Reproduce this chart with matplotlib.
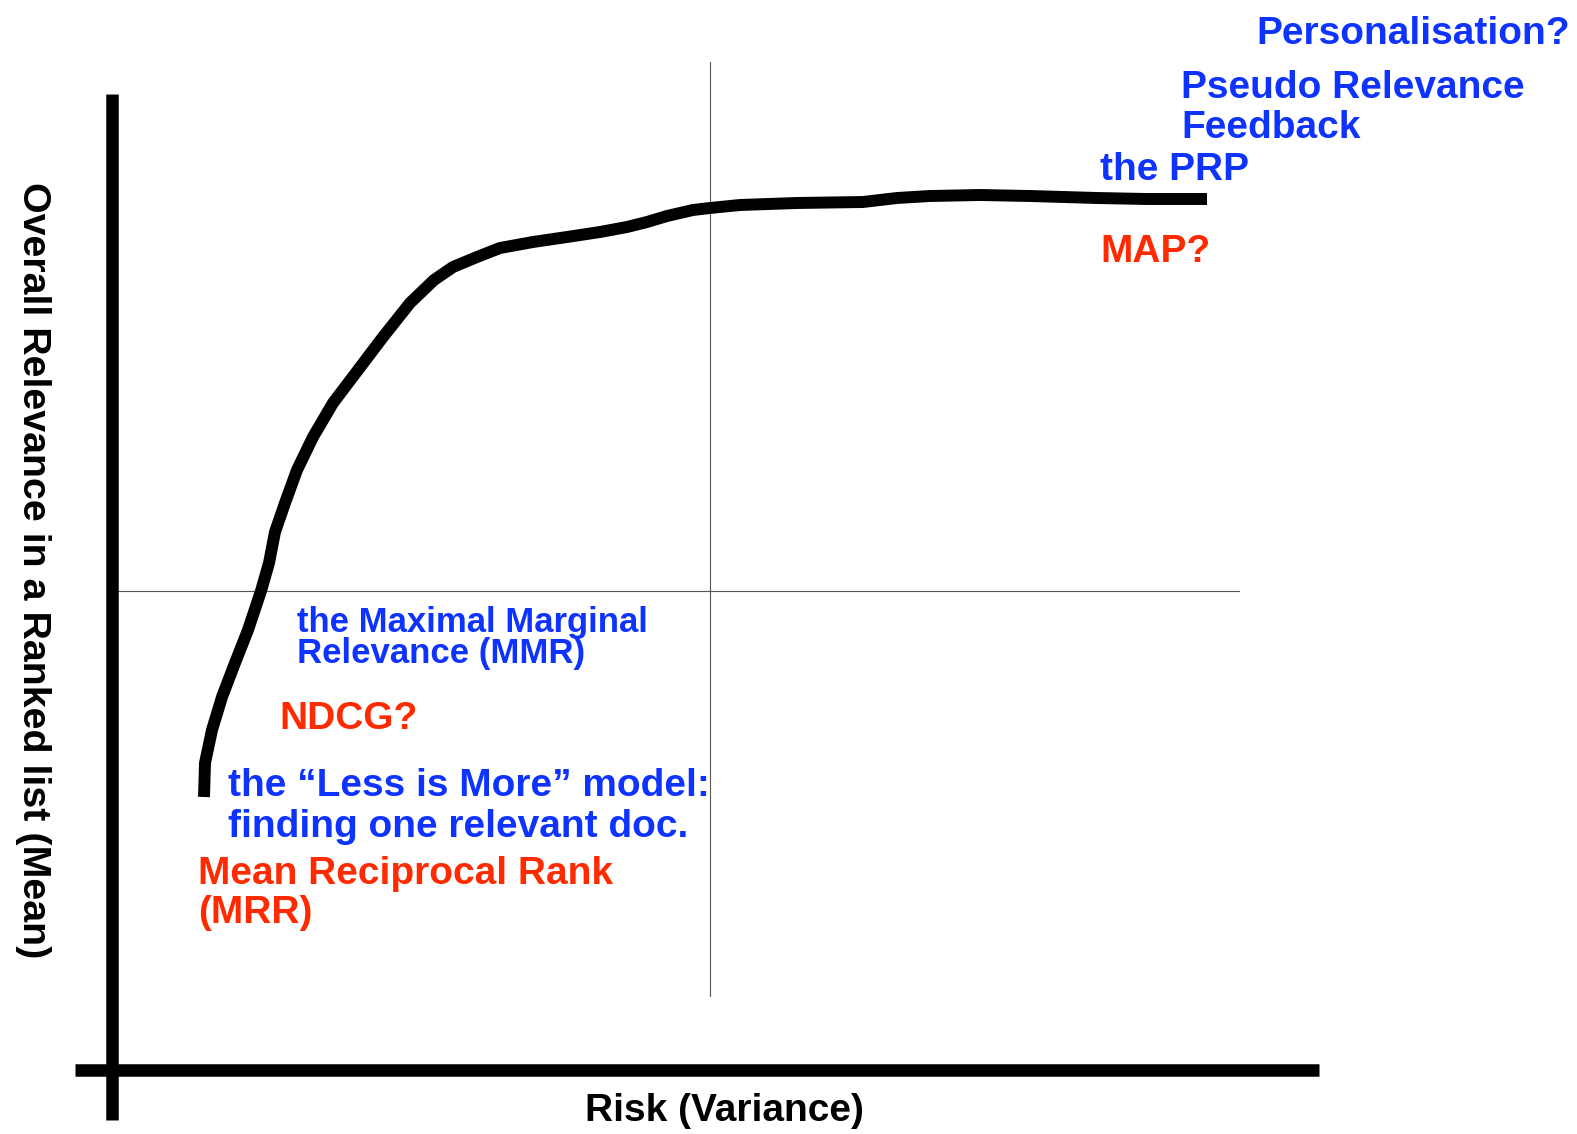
import matplotlib
matplotlib.use("Agg")
import matplotlib.pyplot as plt

# ---- data (pixel-space coordinates of the reference canvas) ----
risk_px = [204, 205, 212, 222, 235, 248, 261, 269, 275, 285, 297, 313, 333, 358,
           383, 410, 434, 453, 477, 500, 533, 567, 600, 627, 647, 667, 693, 710,
           740, 797, 863, 897, 930, 980, 1030, 1097, 1147, 1207]
relevance_px = [797, 763, 730, 697, 663, 630, 591, 563, 532, 503, 470, 437, 403, 370,
                337, 303, 280, 267, 257, 248, 242, 237, 232, 227, 222, 216, 210, 208,
                205, 203, 202, 198, 196, 195, 196, 198, 199, 199]

blue_labels = ["Personalisation?", "Pseudo Relevance", "Feedback", "the PRP",
               "the \u201cLess is More\u201d model:", "finding one relevant doc."]
blue_x = [1256, 1181, 1181, 1100, 228, 228]
blue_y = [44, 98, 138, 180, 796, 837]

mmr_labels = ["the Maximal Marginal", "Relevance (MMR)"]
mmr_x = [297, 297]
mmr_y = [632, 663]

red_labels = ["MAP?", "NDCG?", "Mean Reciprocal Rank", "(MRR)"]
red_x = [1100, 279, 198, 198]
red_y = [262, 729, 884, 923]

xlabel = "Risk (Variance)"
ylabel = "Overall Relevance in a Ranked list (Mean)"

W, H = 1577, 1134
BLUE = "#0F33FF"
RED = "#FF2A00"
FONT = "Liberation Sans"

fig = plt.figure(figsize=(W / 100, H / 100), dpi=100)
ax = fig.add_axes([0, 0, 1, 1])
ax.set_xlim(0, W)
ax.set_ylim(H, 0)
ax.axis("off")

# thin cross-hair lines
ax.plot([118, 1239], [591, 591], color="#555555", lw=0.8)
ax.plot([710, 710], [62, 996], color="#555555", lw=0.8)

# thick axes
ax.plot([112, 112], [94, 1120], color="black", lw=9, solid_capstyle="butt")
ax.plot([75, 1319], [1070, 1070], color="black", lw=9, solid_capstyle="butt")

# the curve
ax.plot(risk_px, relevance_px, color="black", lw=8.6,
        solid_capstyle="butt", solid_joinstyle="round")

for s, x, y in zip(blue_labels, blue_x, blue_y):
    ax.text(x, y, s, color=BLUE, fontsize=28, fontweight="bold", family=FONT,
            ha="left", va="baseline")
for s, x, y in zip(mmr_labels, mmr_x, mmr_y):
    ax.text(x, y, s, color=BLUE, fontsize=25, fontweight="bold", family=FONT,
            ha="left", va="baseline")
for s, x, y in zip(red_labels, red_x, red_y):
    ax.text(x, y, s, color=RED, fontsize=28, fontweight="bold", family=FONT,
            ha="left", va="baseline")

ax.text(724, 1121, xlabel, color="black", fontsize=28, fontweight="bold",
        family=FONT, ha="center", va="baseline")
ax.text(33, 570, ylabel, color="black", fontsize=28.4, fontweight="bold",
        family=FONT, ha="center", va="center", rotation=270)

fig.savefig("out.png", dpi=100, facecolor="white")
